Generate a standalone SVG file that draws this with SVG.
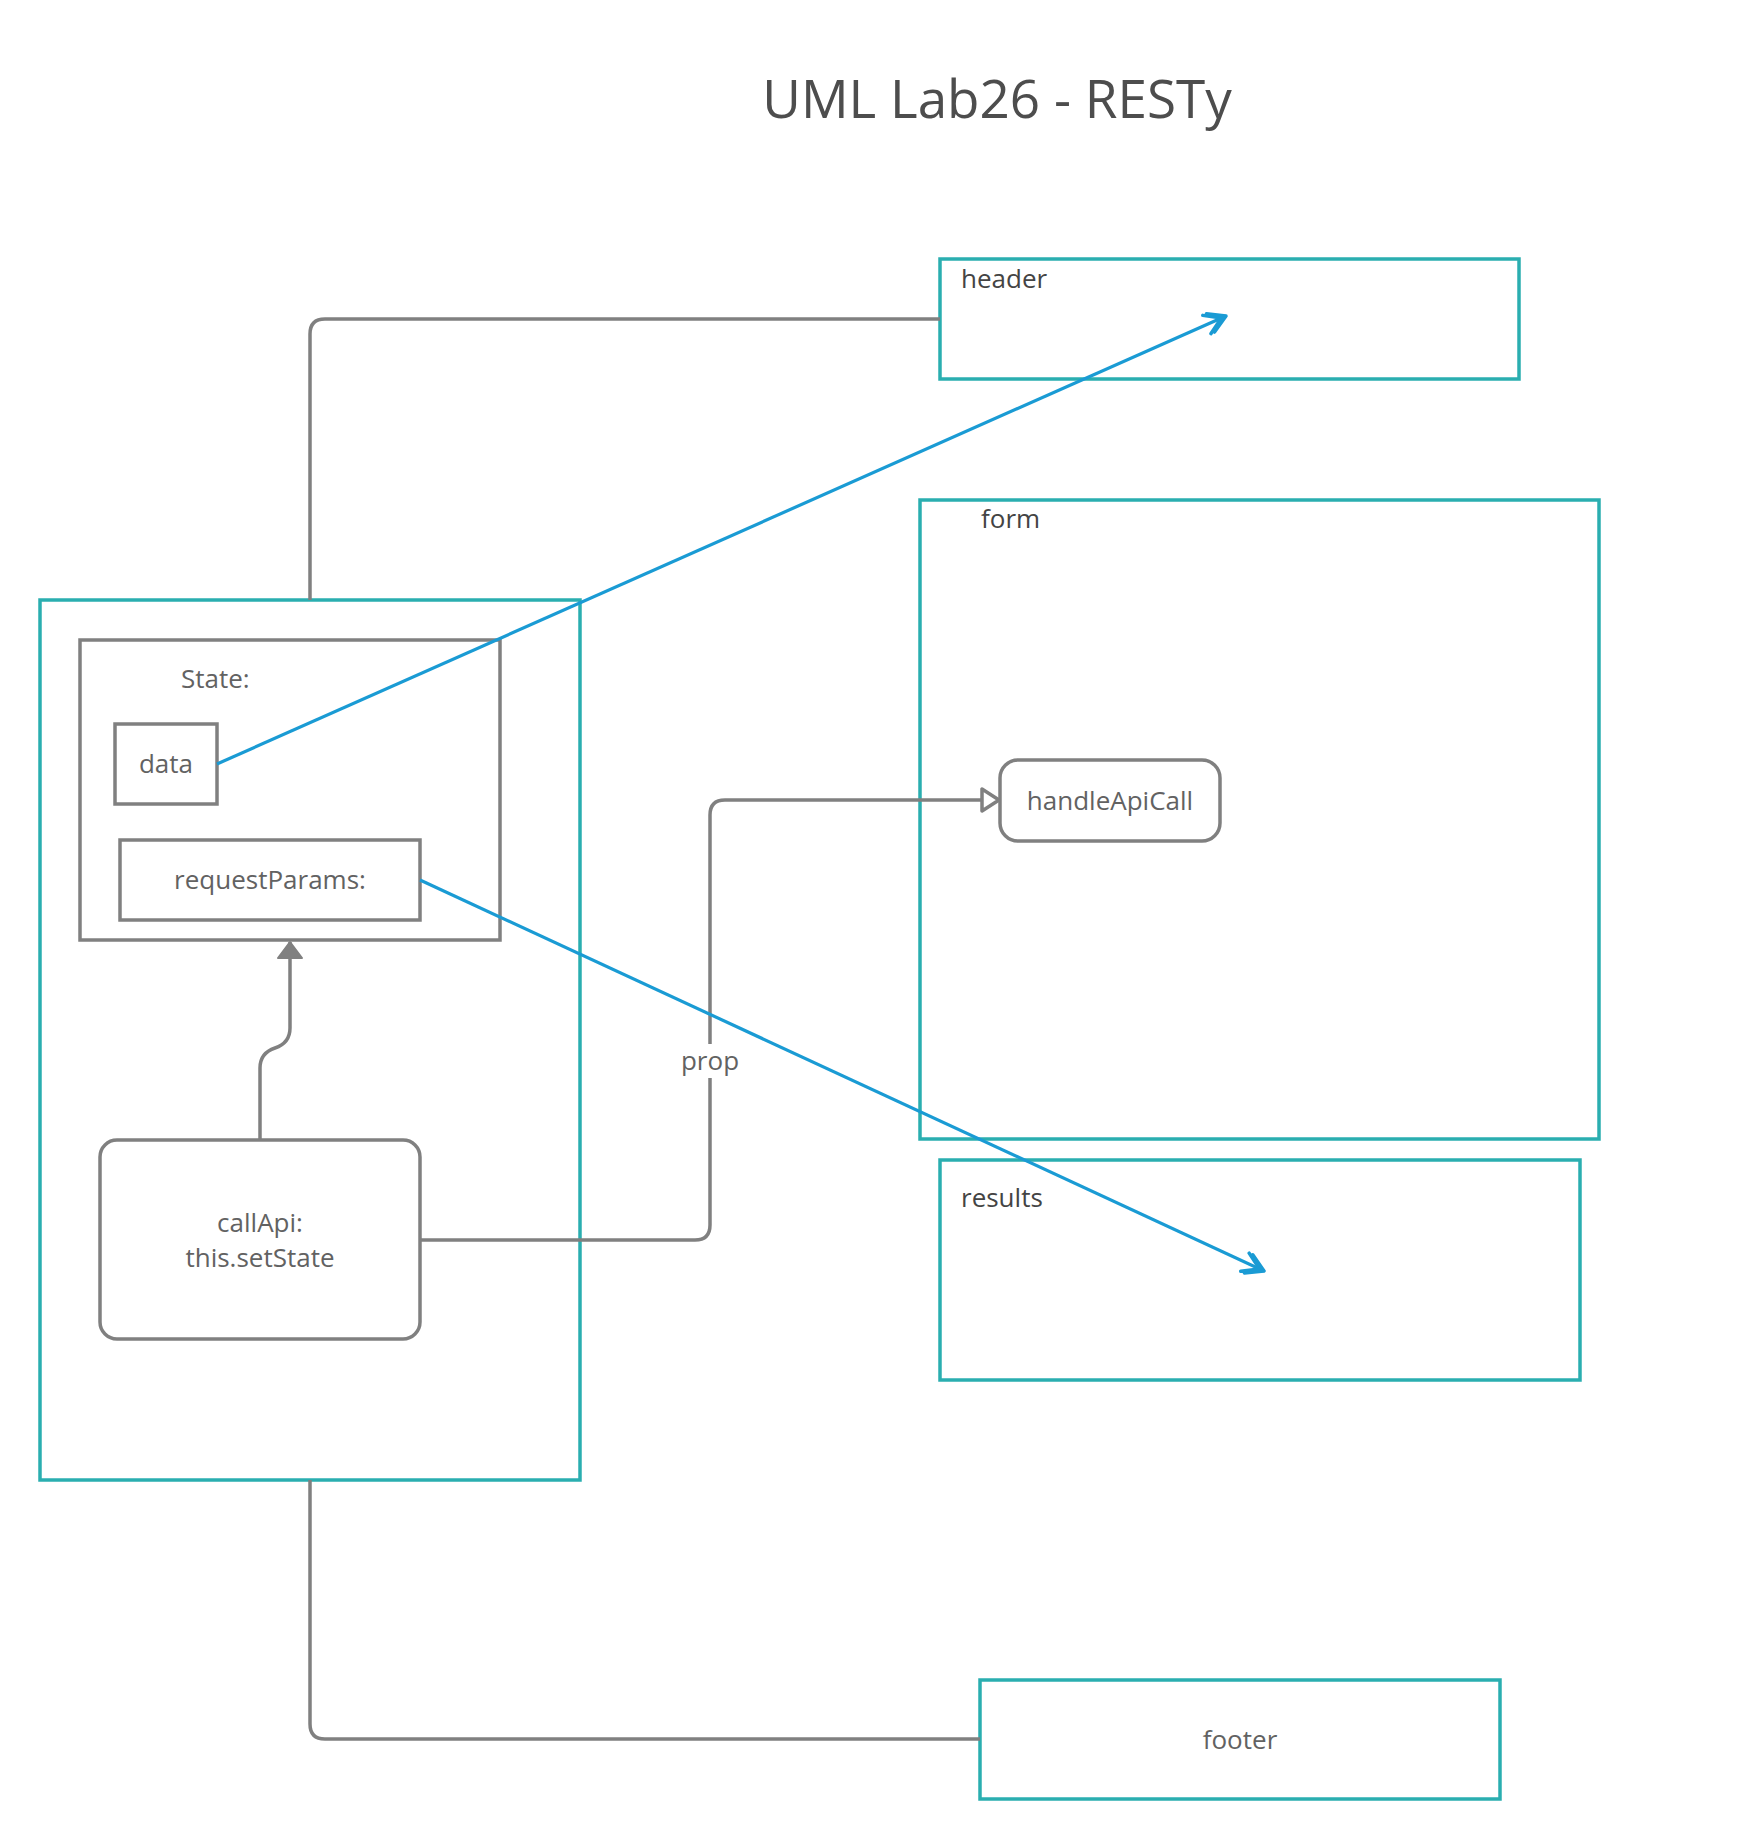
<svg xmlns="http://www.w3.org/2000/svg" width="1740" height="1840" viewBox="0 0 1740 1840">
<style>
.bg{fill:#ffffff}
.teal{fill:#ffffff;stroke:#2aaeb0;stroke-width:3.5}
.gray{fill:#ffffff;stroke:#808080;stroke-width:3.5}
.conn{fill:none;stroke:#808080;stroke-width:3.5;stroke-linejoin:round}
.blue{fill:none;stroke:#1a9bd4;stroke-width:3.2}
.t{font-family:"Open Sans","Noto Sans","Liberation Sans",sans-serif;font-size:26px;fill:#626262}
.lbl{font-family:"Open Sans","Noto Sans","Liberation Sans",sans-serif;font-size:26px;fill:#444444}
.title{font-family:"Open Sans","Noto Sans","Liberation Sans",sans-serif;font-size:53px;fill:#4d4d4d}
</style>
<defs>
<marker id="chev" markerUnits="userSpaceOnUse" markerWidth="40" markerHeight="40" viewBox="-30 -20 40 40" refX="0" refY="0" orient="auto">
<path d="M-17,-10 L0,0 L-17,10 M-21,-10 L-5,0 L-21,10" fill="none" stroke="#1a9bd4" stroke-width="3.5" stroke-linecap="round" stroke-linejoin="round"/>
</marker>
<marker id="filled" markerUnits="userSpaceOnUse" markerWidth="40" markerHeight="40" viewBox="-25 -20 40 40" refX="0" refY="0" orient="auto">
<path d="M0,0 L-16,-12 L-16,12 Z" fill="#808080" stroke="#808080" stroke-width="2" stroke-linejoin="round"/>
</marker>
<marker id="hollow" markerUnits="userSpaceOnUse" markerWidth="40" markerHeight="40" viewBox="-25 -20 40 40" refX="0" refY="0" orient="auto">
<path d="M0,0 L-17,-11 L-17,11 Z" fill="#ffffff" stroke="#808080" stroke-width="3.5" stroke-linejoin="round"/>
</marker>
</defs>
<rect class="bg" x="0" y="0" width="1740" height="1840"/>
<text class="title" x="997" y="118" text-anchor="middle">UML Lab26 - RESTy</text>

<g id="header"><rect class="teal" x="940" y="259" width="579" height="120"/><text class="lbl" x="961" y="288">header</text></g>
<g id="form"><rect class="teal" x="920" y="500" width="679" height="639"/><text class="lbl" x="981" y="528">form</text></g>
<g id="results"><rect class="teal" x="940" y="1160" width="640" height="220"/><text class="lbl" x="961" y="1207">results</text></g>
<g id="footer"><rect class="teal" x="980" y="1680" width="520" height="119"/><text class="t" x="1240" y="1749" text-anchor="middle">footer</text></g>
<g id="app"><rect class="teal" x="40" y="600" width="540" height="880"/></g>
<g id="state"><rect class="gray" x="80" y="640" width="420" height="300"/><text class="t" x="181" y="688">State:</text></g>
<g id="data"><rect class="gray" x="115" y="724" width="102" height="80"/><text class="t" x="166" y="773" text-anchor="middle">data</text></g>
<g id="requestParams"><rect class="gray" x="120" y="840" width="300" height="80"/><text class="t" x="270" y="889" text-anchor="middle">requestParams:</text></g>
<g id="callApi"><rect class="gray" x="100" y="1140" width="320" height="199" rx="17" ry="17"/><text class="t" x="260" y="1232" text-anchor="middle">callApi:</text><text class="t" x="260" y="1267" text-anchor="middle">this.setState</text></g>
<g id="handleApiCall"><rect class="gray" x="1000" y="760" width="220" height="81" rx="18" ry="18"/><text class="t" x="1110" y="810" text-anchor="middle">handleApiCall</text></g>

<g id="connectors">
<path class="conn" d="M310,600 L310,334 Q310,319 325,319 L940,319"/>
<path class="conn" d="M310,1480 L310,1724 Q310,1739 325,1739 L980,1739"/>
<path class="conn" d="M260,1140 L260,1068 Q260,1053 275,1048 Q290,1043 290,1028 L290,942" marker-end="url(#filled)"/>
<path class="conn" d="M420,1240 L695,1240 Q710,1240 710,1225 L710,815 Q710,800 725,800 L999,800" marker-end="url(#hollow)"/>
<rect x="680" y="1044" width="60" height="34" fill="#ffffff"/>
<text class="t" x="710" y="1070" text-anchor="middle">prop</text>
<path class="blue" d="M217,764 L1226,316" marker-end="url(#chev)"/>
<path class="blue" d="M420,880 L1264,1271" marker-end="url(#chev)"/>
</g>
</svg>
